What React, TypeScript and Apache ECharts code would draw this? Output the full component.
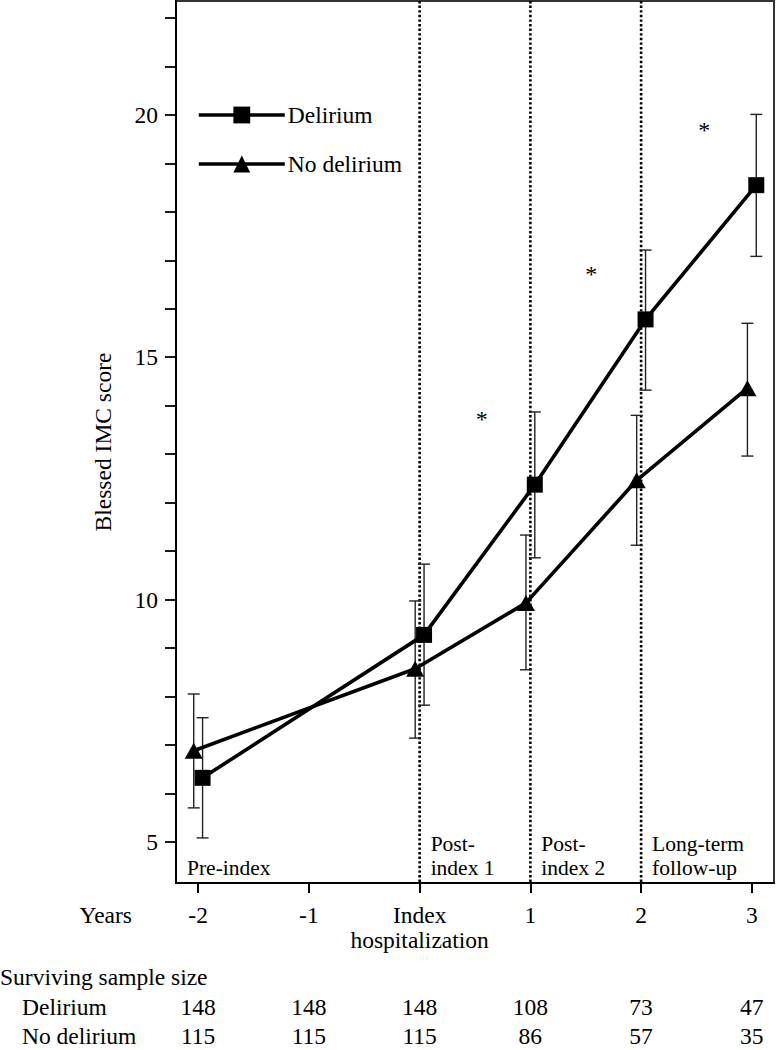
import React, { useEffect, useRef } from "react";
import * as echarts from "echarts";

const FONT = '"Liberation Serif", "Times New Roman", Times, serif';

// ---- data ----
const years = [-2, 0, 1, 2, 3];
const tickYears = [-2, -1, 0, 1, 2, 3];
const tickLabels = ["-2", "-1", "Index\nhospitalization", "1", "2", "3"];
const deliriumMean = [6.32, 9.27, 12.37, 15.78, 18.55];
const deliriumLow = [5.08, 7.82, 10.86, 14.32, 17.08];
const deliriumHigh = [7.56, 10.73, 13.87, 17.21, 20.01];
const noDelMean = [6.88, 8.57, 9.93, 12.46, 14.36];
const noDelLow = [5.7, 7.14, 8.55, 11.12, 12.96];
const noDelHigh = [8.05, 9.97, 11.33, 13.8, 15.7];
const sigYears = [0.56, 1.55, 2.57];
const sigValues = [13.85, 16.84, 19.82];
const phaseStarts = [-2.2, 0, 1, 2];
const phaseLabels = [["Pre-index"], ["Post-", "index 1"], ["Post-", "index 2"], ["Long-term", "follow-up"]];
const boundaries = [0, 1, 2];
const nDelirium = [148, 148, 148, 108, 73, 47];
const nNoDelirium = [115, 115, 115, 86, 57, 35];
const yTickValues = [5, 6, 7, 8, 9, 10, 11, 12, 13, 14, 15, 16, 17, 18, 19, 20, 21, 22];
const yLabelValues = [5, 10, 15, 20];

const X_MIN = -2.2;
const X_MAX = 3.2;
const Y_MIN = 4.15;
const Y_MAX = 22.35;
const DODGE = 0.04;
const FS = 23.5;
const PHASE_FS = 21.5;

function errorBarSeries(name: string, dodge: number, low: number[], high: number[]) {
  return {
    type: "custom",
    name: name + " CI",
    z: 2,
    silent: true,
    data: years.map((x, i) => [x + dodge, low[i], high[i]]),
    encode: { x: 0, y: [1, 2] },
    renderItem: (params: any, api: any) => {
      const x = api.value(0);
      const pLo = api.coord([x, api.value(1)]);
      const pHi = api.coord([x, api.value(2)]);
      const w = 6;
      const style = { stroke: "#222", lineWidth: 1.4 };
      return {
        type: "group",
        children: [
          { type: "line", shape: { x1: pLo[0], y1: pLo[1], x2: pHi[0], y2: pHi[1] }, style },
          { type: "line", shape: { x1: pLo[0] - w, y1: pLo[1], x2: pLo[0] + w, y2: pLo[1] }, style },
          { type: "line", shape: { x1: pHi[0] - w, y1: pHi[1], x2: pHi[0] + w, y2: pHi[1] }, style },
        ],
      };
    },
  };
}

export default function App() {
  const ref = useRef<HTMLDivElement>(null);
  useEffect(() => {
    if (!ref.current) return;
    const chart = echarts.init(ref.current, null, { renderer: "svg" });
    const option: any = {
      animation: false,
      textStyle: { fontFamily: FONT, color: "#000" },
      grid: {
        left: 176,
        top: 1,
        width: 598,
        height: 882,
        show: true,
        borderColor: "#333",
        borderWidth: 2,
        containLabel: false,
      },
      legend: {
        data: ["Delirium", "No delirium"],
        orient: "vertical",
        left: 197,
        top: 103,
        padding: 0,
        itemWidth: 86,
        itemHeight: 21,
        itemGap: 25,
        lineStyle: { width: 3.6, color: "#000" },
        textStyle: { fontFamily: FONT, fontSize: FS, color: "#000", lineHeight: 23, padding: [0, 0, 0, -2] },
      },
      xAxis: {
        type: "value",
        min: X_MIN,
        max: X_MAX,
        splitLine: { show: false },
        axisLine: { show: true, onZero: false, lineStyle: { color: "#000", width: 2 } },
        axisTick: {
          show: true,
          customValues: tickYears,
          length: 10,
          inside: false,
          lineStyle: { color: "#000", width: 2 },
        },
        axisLabel: {
          customValues: tickYears,
          formatter: (v: number) => {
            const i = tickYears.indexOf(Math.round(v));
            return i >= 0 ? tickLabels[i] : "";
          },
          fontFamily: FONT,
          fontSize: FS,
          color: "#000",
          lineHeight: 25,
          margin: 19,
        },
      },
      yAxis: {
        type: "value",
        min: Y_MIN,
        max: Y_MAX,
        name: "Blessed IMC score",
        nameLocation: "middle",
        nameGap: 61,
        nameTextStyle: { fontFamily: FONT, fontSize: FS, color: "#000" },
        splitLine: { show: false },
        axisLine: { show: true, onZero: false, lineStyle: { color: "#000", width: 2 } },
        axisTick: {
          show: true,
          customValues: yTickValues,
          length: 11,
          inside: false,
          lineStyle: { color: "#000", width: 1.8 },
        },
        axisLabel: {
          customValues: yLabelValues,
          fontFamily: FONT,
          fontSize: FS,
          color: "#000",
          margin: 18,
        },
      },
      series: [
        {
          type: "custom",
          name: "boundaries",
          z: 1,
          silent: true,
          data: boundaries.map((b) => [b]),
          encode: { x: 0 },
          renderItem: (params: any, api: any) => {
            const b = api.value(0);
            const top = api.coord([b, Y_MAX]);
            const bot = api.coord([b, Y_MIN]);
            return {
              type: "line",
              shape: { x1: top[0], y1: top[1], x2: bot[0], y2: bot[1] },
              style: { stroke: "#000", lineWidth: 2.6, lineDash: [2.4, 2.2] },
            };
          },
        },
        {
          type: "custom",
          name: "phases",
          z: 1,
          silent: true,
          data: phaseStarts.map((x, i) => [x, i]),
          encode: { x: 0 },
          renderItem: (params: any, api: any) => {
            const x = api.value(0);
            const i = api.value(1);
            const p = api.coord([x, Y_MIN]);
            const lines = phaseLabels[i];
            const n = lines.length;
            return {
              type: "group",
              children: lines.map((t, k) => ({
                type: "text",
                style: {
                  x: p[0] + 11,
                  y: p[1] - 15 - (n - 1 - k) * 24.5,
                  text: t,
                  align: "left",
                  verticalAlign: "middle",
                  font: `${PHASE_FS}px ${FONT}`,
                  fill: "#000",
                },
              })),
            };
          },
        },
        errorBarSeries("Delirium", DODGE, deliriumLow, deliriumHigh),
        errorBarSeries("No delirium", -DODGE, noDelLow, noDelHigh),
        {
          type: "line",
          name: "Delirium",
          z: 3,
          data: years.map((x, i) => [x + DODGE, deliriumMean[i]]),
          symbol: "rect",
          symbolSize: 16,
          lineStyle: { color: "#000", width: 3.6 },
          itemStyle: { color: "#000" },
        },
        {
          type: "line",
          name: "No delirium",
          z: 3,
          data: years.map((x, i) => [x - DODGE, noDelMean[i]]),
          symbol: "triangle",
          symbolSize: [18, 16],
          lineStyle: { color: "#000", width: 3.6 },
          itemStyle: { color: "#000" },
        },
        {
          type: "custom",
          name: "significance",
          z: 3,
          silent: true,
          data: sigYears.map((x, i) => [x, sigValues[i]]),
          encode: { x: 0, y: 1 },
          renderItem: (params: any, api: any) => {
            const p = api.coord([api.value(0), api.value(1)]);
            return {
              type: "text",
              style: {
                x: p[0],
                y: p[1] + 6,
                text: "*",
                align: "center",
                verticalAlign: "middle",
                font: `24px ${FONT}`,
                fill: "#000",
              },
            };
          },
        },
      ],
    };
    chart.setOption(option);

    const xs = tickYears.map((v) => chart.convertToPixel({ xAxisIndex: 0 }, v) as number);
    const font = `${FS}px ${FONT}`;
    const graphics: any[] = [
      { type: "text", x: 132, y: 915, style: { text: "Years", font, fill: "#000", align: "right", verticalAlign: "middle" } },
      { type: "text", x: 0, y: 977, style: { text: "Surviving sample size", font, fill: "#000", align: "left", verticalAlign: "middle" } },
      { type: "text", x: 22, y: 1007, style: { text: "Delirium", font, fill: "#000", align: "left", verticalAlign: "middle" } },
      { type: "text", x: 22, y: 1036, style: { text: "No delirium", font, fill: "#000", align: "left", verticalAlign: "middle" } },
    ];
    xs.forEach((x, i) => {
      graphics.push({ type: "text", x, y: 1007, style: { text: String(nDelirium[i]), font, fill: "#000", align: "center", verticalAlign: "middle" } });
      graphics.push({ type: "text", x, y: 1036, style: { text: String(nNoDelirium[i]), font, fill: "#000", align: "center", verticalAlign: "middle" } });
    });
    chart.setOption({ graphic: graphics });

    return () => chart.dispose();
  }, []);
  return (
    <div
      ref={ref}
      style={{ position: "absolute", left: 0, top: 0, width: 776, height: 1050, background: "#fff" }}
    />
  );
}
